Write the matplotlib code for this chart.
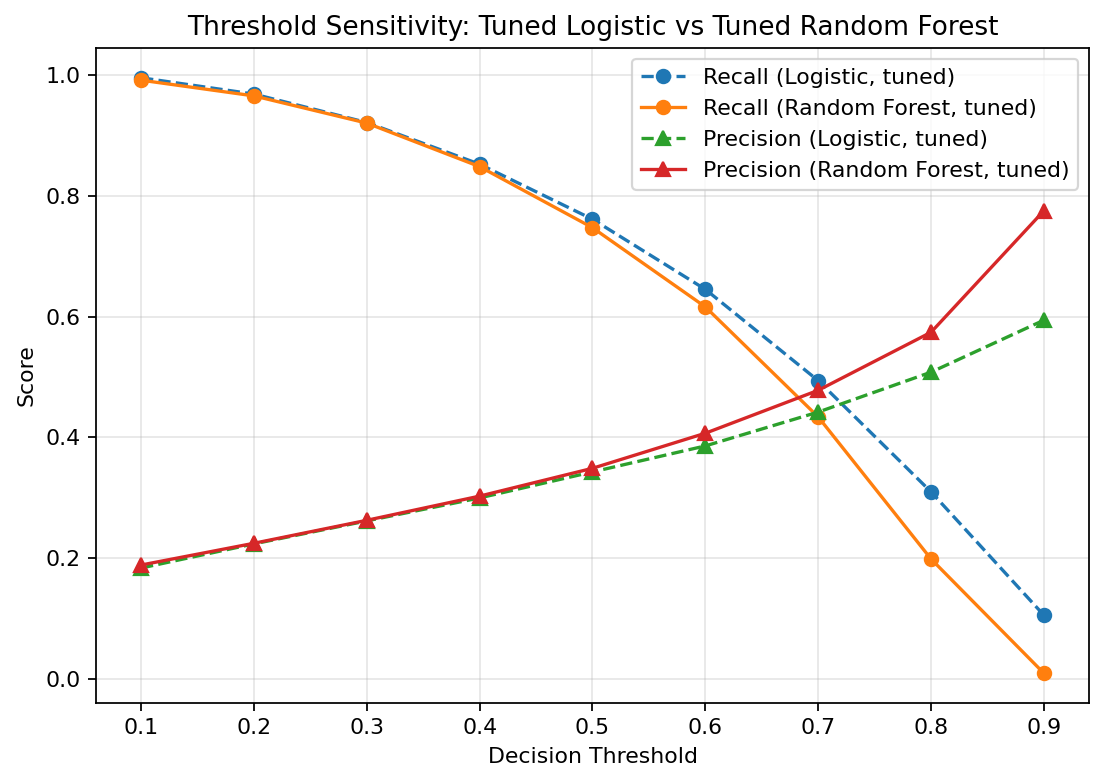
import matplotlib
matplotlib.use("Agg")
import matplotlib.pyplot as plt

thresholds = [0.1, 0.2, 0.3, 0.4, 0.5, 0.6, 0.7, 0.8, 0.9]
recall_log = [0.995, 0.968, 0.921, 0.852, 0.761, 0.645, 0.494, 0.310, 0.106]
recall_rf = [0.991, 0.965, 0.920, 0.848, 0.747, 0.616, 0.434, 0.199, 0.010]
prec_log = [0.184, 0.224, 0.262, 0.300, 0.343, 0.386, 0.442, 0.508, 0.594]
prec_rf = [0.189, 0.225, 0.263, 0.303, 0.349, 0.407, 0.478, 0.574, 0.775]

dpi = 158.5
fig, ax = plt.subplots(figsize=(1103 / dpi, 783 / dpi), dpi=dpi)
fig.subplots_adjust(left=96 / 1103, right=1089 / 1103, top=1 - 48 / 783, bottom=1 - 703 / 783)

ax.plot(thresholds, recall_log, 'o--', color='#1f77b4', label='Recall (Logistic, tuned)')
ax.plot(thresholds, recall_rf, 'o-', color='#ff7f0e', label='Recall (Random Forest, tuned)')
ax.plot(thresholds, prec_log, '^--', color='#2ca02c', label='Precision (Logistic, tuned)')
ax.plot(thresholds, prec_rf, '^-', color='#d62728', label='Precision (Random Forest, tuned)')

ax.set_xticks(thresholds)
ax.set_xlabel('Decision Threshold')
ax.set_ylabel('Score')
ax.set_title('Threshold Sensitivity: Tuned Logistic vs Tuned Random Forest')
ax.grid(True, alpha=0.3)
ax.legend(loc='upper right')

fig.savefig('out.png', dpi=dpi)
